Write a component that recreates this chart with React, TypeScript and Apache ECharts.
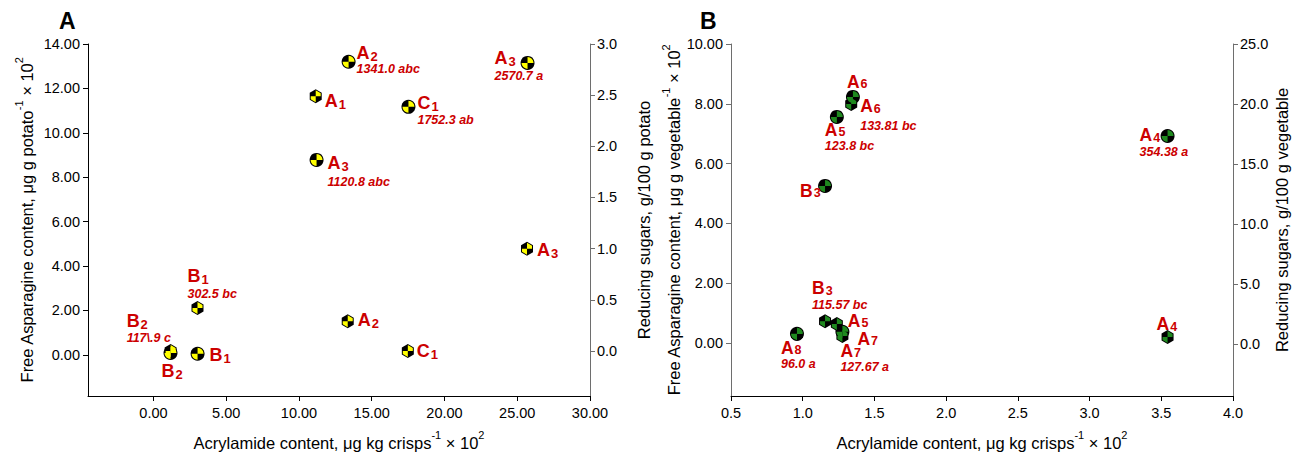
import React, { useEffect, useRef } from 'react';
import * as echarts from 'echarts';

// ---------- Panel A : potato crisps ----------
// free asparagine (left axis, circles)
const aAsnNames = ['A2', 'A3', 'C1', 'A3', 'B2', 'B1'];
const aAsnAcryl = [13.41, 25.707, 17.523, 11.208, 1.17, 3.03];
const aAsnValues = [13.2, 13.15, 11.17, 8.78, 0.09, 0.05];
const aAsnNotes = ['1341.0 abc', '2570.7 a', '1752.3 ab', '1120.8 abc', '', ''];
// reducing sugars (right axis, hexagons)
const aSugNames = ['A1', 'B1', 'B2', 'A2', 'C1', 'A3'];
const aSugAcryl = [11.15, 3.025, 1.179, 13.35, 17.48, 25.67];
const aSugValues = [2.49, 0.42, 0.0, 0.29, 0.0, 1.0];
const aSugNotes = ['', '302.5 bc', '117\\.9 c', '', '', ''];

// ---------- Panel B : vegetable crisps ----------
const bAsnNames = ['A6', 'A5', 'B3', 'A7', 'A8', 'A4'];
const bAsnAcryl = [1.35, 1.238, 1.1557, 1.2767, 0.96, 3.5438];
const bAsnValues = [8.23, 7.56, 5.25, 0.37, 0.3, 6.92];
const bAsnNotes = ['', '123.8 bc', '', '127.67 a', '96.0 a', '354.38 a'];
const bSugNames = ['A6', 'B3', 'A5', 'A7', 'A8', 'A4'];
const bSugAcryl = [1.3381, 1.1557, 1.238, 1.2767, 0.96, 3.5438];
const bSugValues = [20.0, 1.9, 1.67, 0.67, 0.83, 0.58];
const bSugNotes = ['133.81 bc', '115.57 bc', '', '', '', ''];

// tick values
const aXTicks = [0, 5, 10, 15, 20, 25, 30];
const aLeftTicks = [0, 2, 4, 6, 8, 10, 12, 14];
const aRightTicks = [0, 0.5, 1, 1.5, 2, 2.5, 3];
const bLeftTicks = [0, 2, 4, 6, 8, 10];
const bRightTicks = [0, 5, 10, 15, 20, 25];

// label layout: [dx, dy, gap before note] from marker centre (layout only)
const aAsnPlace: (number[] | null)[] = [[8, -18, 2], [-33, -14, 4], [9, -13, 3], [11, -6, 5], [-9, 9, 0], [12, -8, 0]];
const aSugPlace: (number[] | null)[] = [[9, -4, 0], [-10, -41, 3], [-44, -39, 3], [10, -10, 0], [9, -9, 0], [10, -8, 0]];
const bAsnPlace: (number[] | null)[] = [[-6, -24, 0], [-12, 4, 2], [-25, -4, 0], [-2, 10, 2], [-16, 5, 2], [-28, -10, 2]];
const bSugPlace: (number[] | null)[] = [[9, -7, 5], [-13, -42, 2], [11, -12, 0], [15, -6, 0], null, [-11, -22, 0]];

const FONT = '"Liberation Sans", Arial, Helvetica, sans-serif';
const RED = '#cc0000';
const YELLOW = '#ffff00';
const GREEN = '#1f8a1f';

const circleQuad = 'path://M10,10 L20,10 A10,10 0 0,0 10,0 Z M10,10 L0,10 A10,10 0 0,0 10,20 Z';
const hexBase = 'path://M10,0 L18.66,5 L18.66,15 L10,20 L1.34,15 L1.34,5 Z';
const hexQuad = 'path://M10,10 L18.66,10 L18.66,5 L10,0 Z M10,10 L1.34,10 L1.34,15 L10,20 Z';

function richFor(big: boolean, gap: number) {
  return {
    n: { fontFamily: FONT, fontWeight: 'bold', fontSize: big ? 18 : 17.5, lineHeight: 17, color: RED, verticalAlign: 'top' },
    s: { fontFamily: FONT, fontWeight: 'bold', fontSize: big ? 13 : 12.5, lineHeight: 12, padding: [big ? 6 : 5, 0, 0, 1], color: RED, verticalAlign: 'top' },
    v: { fontFamily: FONT, fontWeight: 'bold', fontStyle: 'italic', fontSize: 12.5, lineHeight: 13, padding: [gap, 0, 0, 0], color: RED, verticalAlign: 'top' },
  };
}

function makeData(xs: number[], ys: number[], names: string[], notes: string[], places: (number[] | null)[], big: boolean) {
  return xs.map((x, i) => {
    const p = places[i];
    const nm = names[i];
    let text = `{n|${nm.slice(0, 1)}}{s|${nm.slice(1)}}`;
    if (notes[i]) text += `\n{v|${notes[i]}}`;
    return {
      value: [x, ys[i]],
      label: p
        ? {
            show: true,
            position: 'inside',
            offset: [p[0], p[1]],
            align: 'left',
            verticalAlign: 'top',
            formatter: text,
            rich: richFor(big, p[2]),
          }
        : { show: false },
    };
  });
}

function markerSeries(xi: number, yi: number, data: any[], kind: 'circle' | 'hex', color: string) {
  const base = {
    type: 'scatter',
    xAxisIndex: xi,
    yAxisIndex: yi,
    silent: true,
    symbol: kind === 'circle' ? 'circle' : hexBase,
    symbolSize: kind === 'circle' ? 14 : [12, 14],
    itemStyle: { color: '#000', opacity: 1 },
    label: { show: false },
    data: data.map((d) => d.value),
    z: 2,
  };
  const over = {
    type: 'scatter',
    xAxisIndex: xi,
    yAxisIndex: yi,
    silent: true,
    symbol: kind === 'circle' ? circleQuad : hexQuad,
    symbolSize: kind === 'circle' ? 12 : [10, 12],
    itemStyle: { color, opacity: 1 },
    data,
    z: 3,
  };
  return [base, over];
}

function axisTitle(parts: [string, boolean][]) {
  return parts.map(([t, sup]) => (sup ? `{u|${t}}` : `{t|${t}}`)).join('');
}

const titleRich = {
  t: { fontFamily: FONT, fontSize: 16.5, lineHeight: 22, color: '#000', verticalAlign: 'bottom' },
  u: { fontFamily: FONT, fontSize: 11, lineHeight: 13, color: '#000', verticalAlign: 'top' },
};

export default function App() {
  const ref = useRef<HTMLDivElement>(null);
  useEffect(() => {
    if (!ref.current) return;
    const chart = echarts.init(ref.current, undefined, { renderer: 'svg' });

    const tickLabel = { fontFamily: FONT, fontSize: 14.5, color: '#000', margin: 8 };
    const lineBlack = { show: true, onZero: false, lineStyle: { color: '#000', width: 1 } };
    const lineGrey = { show: true, onZero: false, lineStyle: { color: '#6e6e6e', width: 1 } };
    const tick = (c: string, vals?: number[]) => ({ show: true, length: 5, lineStyle: { color: c, width: 1 }, ...(vals ? { customValues: vals } : {}) });

    const xTitle = axisTitle([['Acrylamide content, μg kg crisps', false], ['-1', true], [' × 10', false], ['2', true]]);

    const option: any = {
      animation: false,
      backgroundColor: '#fff',
      textStyle: { fontFamily: FONT },
      grid: [
        { left: 88, top: 44, width: 502, height: 352, containLabel: false },
        { left: 731, top: 44, width: 502, height: 352, containLabel: false },
      ],
      xAxis: [
        {
          type: 'value', gridIndex: 0, min: -4.5, max: 30,
          axisLine: lineBlack, axisTick: tick('#000', aXTicks), splitLine: { show: false },
          axisLabel: { ...tickLabel, margin: 9, customValues: aXTicks, formatter: (v: number) => v.toFixed(2) },
          name: xTitle, nameLocation: 'middle', nameGap: 33,
          nameTextStyle: { rich: titleRich },
        },
        {
          type: 'value', gridIndex: 1, min: 0.5, max: 4.0, interval: 0.5,
          axisLine: lineBlack, axisTick: tick('#000'), splitLine: { show: false },
          axisLabel: { ...tickLabel, margin: 9, formatter: (v: number) => v.toFixed(1) },
          name: xTitle, nameLocation: 'middle', nameGap: 33,
          nameTextStyle: { rich: titleRich },
        },
      ],
      yAxis: [
        {
          type: 'value', gridIndex: 0, position: 'left', min: -1.85, max: 14,
          axisLine: lineBlack, axisTick: tick('#000', aLeftTicks), splitLine: { show: false },
          axisLabel: { ...tickLabel, customValues: aLeftTicks, formatter: (v: number) => v.toFixed(2) },
          name: axisTitle([['Free Asparagine content, μg g potato', false], ['-1', true], [' × 10', false], ['2', true]]),
          nameLocation: 'middle', nameGap: 53, nameRotate: 90,
          nameTextStyle: { rich: titleRich },
        },
        {
          type: 'value', gridIndex: 0, position: 'right', min: -0.44, max: 3.0,
          axisLine: lineGrey, axisTick: tick('#6e6e6e', aRightTicks), splitLine: { show: false },
          axisLabel: { ...tickLabel, margin: 7, customValues: aRightTicks, formatter: (v: number) => v.toFixed(1) },
          name: axisTitle([['Reducing sugars, g/100 g potato', false]]),
          nameLocation: 'middle', nameGap: 40, nameRotate: 90,
          nameTextStyle: { rich: titleRich },
        },
        {
          type: 'value', gridIndex: 1, position: 'left', min: -1.78, max: 10,
          axisLine: lineGrey, axisTick: tick('#6e6e6e', bLeftTicks), splitLine: { show: false },
          axisLabel: { ...tickLabel, customValues: bLeftTicks, formatter: (v: number) => v.toFixed(2) },
          name: axisTitle([['Free Asparagine content, μg g vegetable', false], ['-1', true], [' × 10', false], ['2', true]]),
          nameLocation: 'middle', nameGap: 32, nameRotate: 90,
          nameTextStyle: { rich: titleRich },
        },
        {
          type: 'value', gridIndex: 1, position: 'right', min: -4.33, max: 25,
          axisLine: lineGrey, axisTick: tick('#6e6e6e', bRightTicks), splitLine: { show: false },
          axisLabel: { ...tickLabel, margin: 7, customValues: bRightTicks, formatter: (v: number) => v.toFixed(1) },
          name: axisTitle([['Reducing sugars, g/100 g vegetable', false]]),
          nameLocation: 'middle', nameGap: 35, nameRotate: 90,
          nameTextStyle: { rich: titleRich },
        },
      ],
      graphic: [
        { type: 'text', left: 59, top: 9, style: { text: 'A', fontFamily: FONT, fontWeight: 'bold', fontSize: 23, fill: '#000' } },
        { type: 'text', left: 700, top: 9, style: { text: 'B', fontFamily: FONT, fontWeight: 'bold', fontSize: 23, fill: '#000' } },
      ],
      series: [
        ...markerSeries(0, 0, makeData(aAsnAcryl, aAsnValues, aAsnNames, aAsnNotes, aAsnPlace, true), 'circle', YELLOW),
        ...markerSeries(0, 1, makeData(aSugAcryl, aSugValues, aSugNames, aSugNotes, aSugPlace, true), 'hex', YELLOW),
        ...markerSeries(1, 2, makeData(bAsnAcryl, bAsnValues, bAsnNames, bAsnNotes, bAsnPlace, false), 'circle', GREEN),
        ...markerSeries(1, 3, makeData(bSugAcryl, bSugValues, bSugNames, bSugNotes, bSugPlace, false), 'hex', GREEN),
      ],
    };
    chart.setOption(option);
    return () => chart.dispose();
  }, []);
  return <div ref={ref} style={{ position: 'absolute', left: 0, top: 0, width: 1299, height: 459 }} />;
}
